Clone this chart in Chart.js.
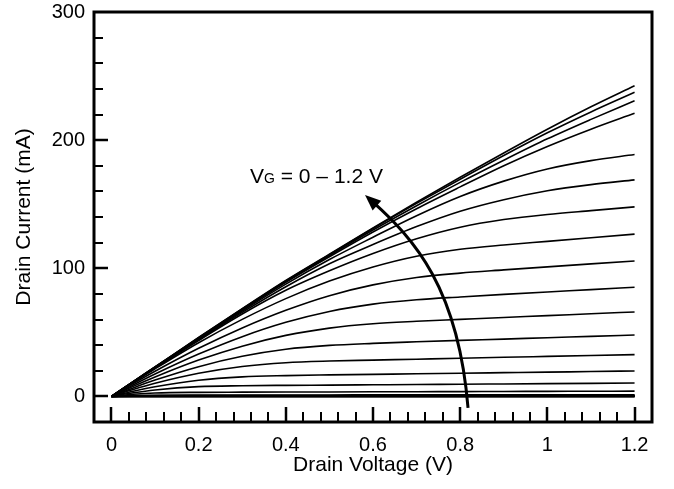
<!DOCTYPE html>
<html>
<head>
<meta charset="utf-8">
<script src="https://cdn.jsdelivr.net/npm/chart.js@4.4.1/dist/chart.umd.min.js"></script>
<style>
  html, body { margin: 0; padding: 0; background: #fff; }
</style>
</head>
<body>
<canvas id="iv" width="674" height="489"></canvas>
<script>
// drain voltage samples (V)
const drainVoltage = [0, 0.05, 0.1, 0.2, 0.3, 0.4, 0.5, 0.6, 0.7, 0.8, 0.9, 1.0, 1.1, 1.2];

// drain current (mA) per gate voltage
const vg000 = [0, 0, 0, 0, 0, 0, 0, 0, 0, 0, 0, 0, 0, 0];
const vg005 = [0, 0, 0, 0, 0, 0, 0, 0, 0, 0, 0, 0, 0, 0];
const vg010 = [0, 0, 0, 0, 0, 0, 0, 0, 0, 0, 0, 0, 0, 0];
const vg015 = [0, 0, 0, 0, 0, 0, 0, 0, 0, 0, 0, 0, 0, 0];
const vg020 = [0, 0.05, 0.07, 0.08, 0.08, 0.08, 0.09, 0.09, 0.09, 0.09, 0.1, 0.1, 0.1, 0.1];
const vg025 = [0, 0.15, 0.2, 0.23, 0.24, 0.25, 0.26, 0.26, 0.27, 0.28, 0.28, 0.29, 0.3, 0.3];
const vg030 = [0, 0.25, 0.35, 0.4, 0.41, 0.42, 0.43, 0.44, 0.45, 0.46, 0.47, 0.48, 0.49, 0.5];
const vg035 = [0, 0.4, 0.6, 0.65, 0.67, 0.68, 0.7, 0.72, 0.73, 0.75, 0.76, 0.77, 0.79, 0.8];
const vg040 = [0, 0.6, 0.9, 1.05, 1.08, 1.1, 1.12, 1.15, 1.18, 1.2, 1.23, 1.25, 1.28, 1.3];
const vg045 = [0, 1.6, 2.6, 3.15, 3.28, 3.38, 3.47, 3.56, 3.65, 3.74, 3.83, 3.92, 4.01, 4.1];
const vg050 = [0, 2.8, 5.0, 7.6, 8.3, 8.6, 8.8, 9.03, 9.26, 9.48, 9.71, 9.94, 10.17, 10.4];
const vg055 = [0, 4.0, 7.5, 12.6, 15.2, 16.2, 16.75, 17.2, 17.6, 18.1, 18.5, 18.9, 19.4, 19.8];
const vg060 = [0, 5.4, 10.2, 18.0, 23.3, 26.3, 27.6, 28.3, 29.0, 29.7, 30.5, 31.2, 31.9, 32.6];
const vg065 = [0, 6.6, 12.7, 23.2, 31.3, 36.8, 39.8, 41.4, 42.6, 43.7, 44.7, 45.8, 46.8, 47.9];
const vg070 = [0, 7.8, 15.1, 28.3, 39.2, 47.6, 53.3, 56.7, 58.6, 60.1, 61.6, 63.0, 64.5, 65.9];
const vg075 = [0, 8.9, 17.4, 33.0, 46.6, 57.8, 66.3, 72.0, 75.4, 77.6, 79.6, 81.5, 83.3, 85.2];
const vg080 = [0, 10.0, 19.6, 37.5, 53.4, 67.2, 78.6, 87.0, 92.8, 96.2, 98.7, 101.1, 103.4, 105.7];
const vg085 = [0, 10.8, 21.5, 41.9, 60.1, 76.3, 90.0, 101.0, 109.4, 114.8, 118.2, 121.0, 123.8, 126.6];
const vg090 = [0, 11.1, 22.0, 43.6, 64.3, 82.8, 98.0, 111.5, 123.0, 132.0, 138.0, 142.0, 145.0, 147.9];
const vg095 = [0, 11.2, 22.3, 44.3, 65.6, 85.6, 103.5, 118.5, 132.5, 144.5, 153.5, 160.5, 165.3, 169.0];
const vg100 = [0, 11.3, 22.5, 44.8, 66.6, 87.6, 106.8, 124.2, 141.0, 156.0, 168.0, 177.5, 184.0, 188.8];
const vg105 = [0, 11.4, 22.7, 45.2, 67.3, 89.0, 109.0, 128.3, 146.5, 163.5, 180.0, 195.0, 208.5, 220.9];
const vg110 = [0, 11.4, 22.8, 45.5, 67.8, 89.6, 109.9, 129.8, 148.8, 167.0, 184.3, 201.0, 216.2, 230.7];
const vg115 = [0, 11.5, 22.9, 45.8, 68.2, 90.1, 110.6, 131.0, 150.6, 169.5, 188.0, 205.7, 222.0, 237.3];
const vg120 = [0, 11.5, 23.0, 46.0, 68.5, 90.5, 111.0, 131.5, 151.5, 171.0, 190.0, 208.5, 226.0, 242.4];

const curves = [vg000, vg005, vg010, vg015, vg020, vg025, vg030, vg035, vg040, vg045, vg050, vg055, vg060,
                vg065, vg070, vg075, vg080, vg085, vg090, vg095, vg100, vg105, vg110, vg115, vg120];

// axis ticks
const xTicks = [0, 0.2, 0.4, 0.6, 0.8, 1, 1.2];
const yTicks = [0, 100, 200, 300];

Chart.defaults.font.family = '"Liberation Sans", Arial, sans-serif';
Chart.defaults.color = '#000';

const fontSize = 20;
const titleSize = 21;

// inward ticks, frame and the VG annotation
const framePlugin = {
    id: 'frame',
    afterDatasetsDraw(chart) {
        const { ctx, chartArea: a, scales: { x, y } } = chart;
        ctx.save();
        ctx.strokeStyle = '#000';
        ctx.fillStyle = '#000';
        ctx.lineCap = 'butt';

        // x ticks every 0.04, major every 0.2
        for (let k = 1; k < 32; k++) {
            const px = Math.round(x.getPixelForValue(-0.04 + k * 0.04));
            const major = (k - 1) % 5 === 0;
            ctx.lineWidth = major ? 2.5 : 2;
            ctx.beginPath();
            ctx.moveTo(px, a.bottom);
            ctx.lineTo(px, a.bottom - (major ? 15 : 10));
            ctx.stroke();
        }
        // y ticks every 20, major every 100
        for (let k = 1; k < 16; k++) {
            const py = Math.round(y.getPixelForValue(-20 + k * 20));
            const major = (k - 1) % 5 === 0;
            ctx.lineWidth = major ? 2.5 : 2;
            ctx.beginPath();
            ctx.moveTo(a.left, py);
            ctx.lineTo(a.left + (major ? 14 : 9), py);
            ctx.stroke();
        }

        ctx.lineWidth = 3;
        ctx.strokeRect(a.left, a.top, a.right - a.left, a.bottom - a.top);

        // curved arrow
        const p = (v, i) => [x.getPixelForValue(v), y.getPixelForValue(i)];
        const s0 = p(0.818, -9);
        const c1 = p(0.7954, 84.6);
        const c2 = p(0.6842, 126.0);
        const tip = p(0.5817, 157.2);
        let dx = tip[0] - c2[0], dy = tip[1] - c2[1];
        const len = Math.hypot(dx, dy);
        dx /= len; dy /= len;
        const end = [tip[0] - dx * 10, tip[1] - dy * 10];
        ctx.lineWidth = 3;
        ctx.beginPath();
        ctx.moveTo(s0[0], s0[1]);
        ctx.bezierCurveTo(c1[0], c1[1], c2[0] - dx * 6, c2[1] - dy * 6, end[0], end[1]);
        ctx.stroke();
        ctx.beginPath();
        ctx.moveTo(tip[0], tip[1]);
        ctx.lineTo(tip[0] - dx * 16 - dy * 6.5, tip[1] - dy * 16 + dx * 6.5);
        ctx.lineTo(tip[0] - dx * 16 + dy * 6.5, tip[1] - dy * 16 - dx * 6.5);
        ctx.closePath();
        ctx.fill();

        // label
        const t = p(0.3179, 166.8);
        ctx.textBaseline = 'alphabetic';
        ctx.textAlign = 'left';
        ctx.font = '21px "Liberation Sans", Arial, sans-serif';
        ctx.fillText('V', t[0], t[1]);
        let tx = t[0] + ctx.measureText('V').width;
        ctx.font = '14px "Liberation Sans", Arial, sans-serif';
        ctx.fillText('G', tx, t[1]);
        tx += ctx.measureText('G').width;
        ctx.font = '21px "Liberation Sans", Arial, sans-serif';
        ctx.fillText(' = 0 \u2013 1.2 V', tx, t[1]);
        ctx.restore();
    }
};

const datasets = curves.map((ys) => ({
    data: ys.map((v, i) => ({ x: drainVoltage[i], y: v })),
    borderColor: '#000',
    borderWidth: 1.6,
    pointRadius: 0,
    fill: false,
    cubicInterpolationMode: 'monotone',
}));

new Chart(document.getElementById('iv'), {
    type: 'line',
    data: { datasets },
    options: {
        responsive: false,
        animation: false,
        devicePixelRatio: 1,
        layout: { padding: { top: 12, right: 22, left: 0, bottom: 0 } },
        plugins: { legend: { display: false }, tooltip: { enabled: false } },
        scales: {
            x: {
                type: 'linear',
                min: -0.04,
                max: 1.24,
                afterFit: (s) => { s.height = 67; s.paddingLeft = 0; s.paddingRight = 0; },
                afterBuildTicks: (s) => { s.ticks = xTicks.map((v) => ({ value: v })); },
                grid: { display: false, drawTicks: false },
                border: { display: false },
                ticks: {
                    font: { size: fontSize },
                    padding: 11,
                    maxRotation: 0,
                    autoSkip: false,
                    callback: (v) => String(v),
                },
                title: {
                    display: true,
                    text: 'Drain Voltage (V)',
                    font: { size: titleSize },
                    padding: { top: 0, bottom: 11 },
                },
            },
            y: {
                min: -20,
                max: 300,
                afterFit: (s) => { s.width = 94; s.paddingTop = 0; s.paddingBottom = 0; },
                afterBuildTicks: (s) => { s.ticks = yTicks.map((v) => ({ value: v })); },
                grid: { display: false, drawTicks: false },
                border: { display: false },
                ticks: {
                    font: { size: fontSize },
                    padding: 9,
                    autoSkip: false,
                    callback: (v) => String(v),
                },
                title: {
                    display: true,
                    text: 'Drain Current (mA)',
                    font: { size: titleSize },
                    padding: { top: 12, bottom: 0 },
                },
            },
        },
    },
    plugins: [framePlugin],
});
</script>
</body>
</html>
